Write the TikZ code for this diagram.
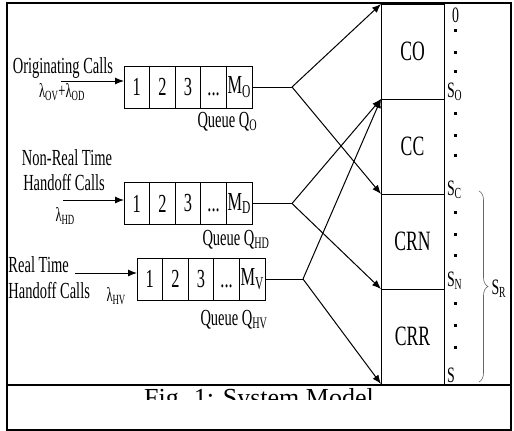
\documentclass[tikz,border=0pt]{standalone}
\usepackage{fontspec}
\setmainfont{Liberation Serif}[FakeStretch=0.63]
\newfontfamily\capfont{Liberation Serif}
\usepackage{tikz}
\usetikzlibrary{arrows.meta,positioning,decorations.pathreplacing}

\begin{document}
\begin{tikzpicture}[
  x=1pt, y=-1pt, line width=1pt,
  cell/.style={draw, minimum width=25.6pt, minimum height=42pt, inner sep=0pt,
               outer sep=0pt, font=\fontsize{26}{28}\selectfont},
  part/.style={draw, minimum width=63pt, minimum height=95pt, inner sep=0pt,
               outer sep=0pt, font=\fontsize{28}{30}\selectfont},
  lab/.style={inner sep=0pt, font=\fontsize{23}{25}\selectfont},
  rate/.style={inner sep=0pt, font=\fontsize{20}{22}\selectfont},
  lev/.style={inner sep=0pt, font=\fontsize{22}{24}\selectfont},
  frame/.style={draw, line width=1.4pt},
  ar/.style={-{Latex[length=9pt,width=7pt]}}]
\useasboundingbox (0,0) rectangle (514,431);
\draw[frame] (7,3) rectangle (511,385);
\draw[frame] (7,385) rectangle (511,430);
% queues
\node[cell] (o1) at (136.8,87) {1};
\node[cell, right=0pt of o1] (o2) {2};
\node[cell, right=0pt of o2] (o3) {3};
\node[cell, right=0pt of o3] (o4) {\vphantom{1}...};
\node[cell, right=0pt of o4] (o5) {M\textsubscript{O}};
\node[cell] (d1) at (136.8,203.5) {1};
\node[cell, right=0pt of d1] (d2) {2};
\node[cell, right=0pt of d2] (d3) {3};
\node[cell, right=0pt of d3] (d4) {\vphantom{1}...};
\node[cell, right=0pt of d4] (d5) {M\textsubscript{D}};
\node[cell] (v1) at (149.8,279) {1};
\node[cell, right=0pt of v1] (v2) {2};
\node[cell, right=0pt of v2] (v3) {3};
\node[cell, right=0pt of v3] (v4) {\vphantom{1}...};
\node[cell, right=0pt of v4] (v5) {M\textsubscript{V}};
\node[lab, anchor=base west] (qo) at (197,127) {Queue Q\textsubscript{O}};
\node[lab, anchor=base west] (qd) at (202,245) {Queue Q\textsubscript{HD}};
\node[lab, anchor=base west] (qv) at (200,325) {Queue Q\textsubscript{HV}};
% channels
\node[part] (co) at (412.5,51.5) {CO};
\node[part, below=0pt of co] (cc) {CC};
\node[part, below=0pt of cc] (crn) {CRN};
\node[part, below=0pt of crn] (crr) {CRR};
% arrivals
\node[lab, anchor=base] (orig) at (63,73) {Originating Calls};
\node[rate, anchor=base] (lo) at (62,97) {λ\textsubscript{OV}+λ\textsubscript{OD}};
\node[lab, anchor=base] (nrt) at (67,165) {Non-Real Time};
\node[lab, anchor=base] (hnd) at (64,190) {Handoff Calls};
\node[rate, anchor=base west] (lhd) at (55,221) {λ\textsubscript{HD}};
\node[lab, anchor=base west] (rt) at (8,272) {Real Time};
\node[lab, anchor=base west] (hrt) at (8,298) {Handoff Calls};
\node[rate, anchor=base west] (lhv) at (106,301) {λ\textsubscript{HV}};
\coordinate (in1) at (61,81);
\coordinate (in2) at (63,200);
\coordinate (in3) at (75,273);
\draw[ar] (in1) -- (in1 -| o1.west);
\draw[ar] (in2) -- (in2 -| d1.west);
\draw[ar] (in3) -- (in3 -| v1.west);
% to the channels
\coordinate (j1) at (292,87);
\coordinate (j2) at (292,203.5);
\coordinate (j3) at (303,279);
\draw (o5.east) -- (j1);
\draw[ar] (j1) -- (co.north west);
\draw[ar] (j1) -- (cc.south west);
\draw (d5.east) -- (j2);
\draw[ar] (j2) -- (cc.north west);
\draw[ar] (j2) -- (crn.south west);
\draw (v5.east) -- (j3);
\draw[ar] (j3) -- (cc.north west);
\draw[ar] (j3) -- (crr.south west);
% thresholds
\node[lev, anchor=base] (s0) at (455.5,22) {0};
\node[lev, anchor=base west] (so) at (446.5,97) {S\textsubscript{O}};
\node[lev, anchor=base west] (sc) at (446.5,195) {S\textsubscript{C}};
\node[lev, anchor=base west] (sn) at (446.5,286) {S\textsubscript{N}};
\node[lev, anchor=base west] (s) at (446.5,382) {S};
\foreach \y in {30,52,71,113,135,155,212,234,255,303,325,347}
  \fill (454,\y-1.5) rectangle ++(3,3);
\draw[decorate, decoration={brace, amplitude=9pt}, line width=0.6pt, black!60]
  (479,191) -- (479,382);
\node[lev, anchor=base west] (sr) at (491,294) {S\textsubscript{R}};
% caption, cut as in the figure
\begin{scope}
\clip (7,385) rectangle (511,399.5);
\node[inner sep=0pt, anchor=base, font=\capfont\fontsize{26}{28}\selectfont] (cap)
  at (259,406) {Fig. 1: System Model};
\end{scope}
\end{tikzpicture}
\end{document}
